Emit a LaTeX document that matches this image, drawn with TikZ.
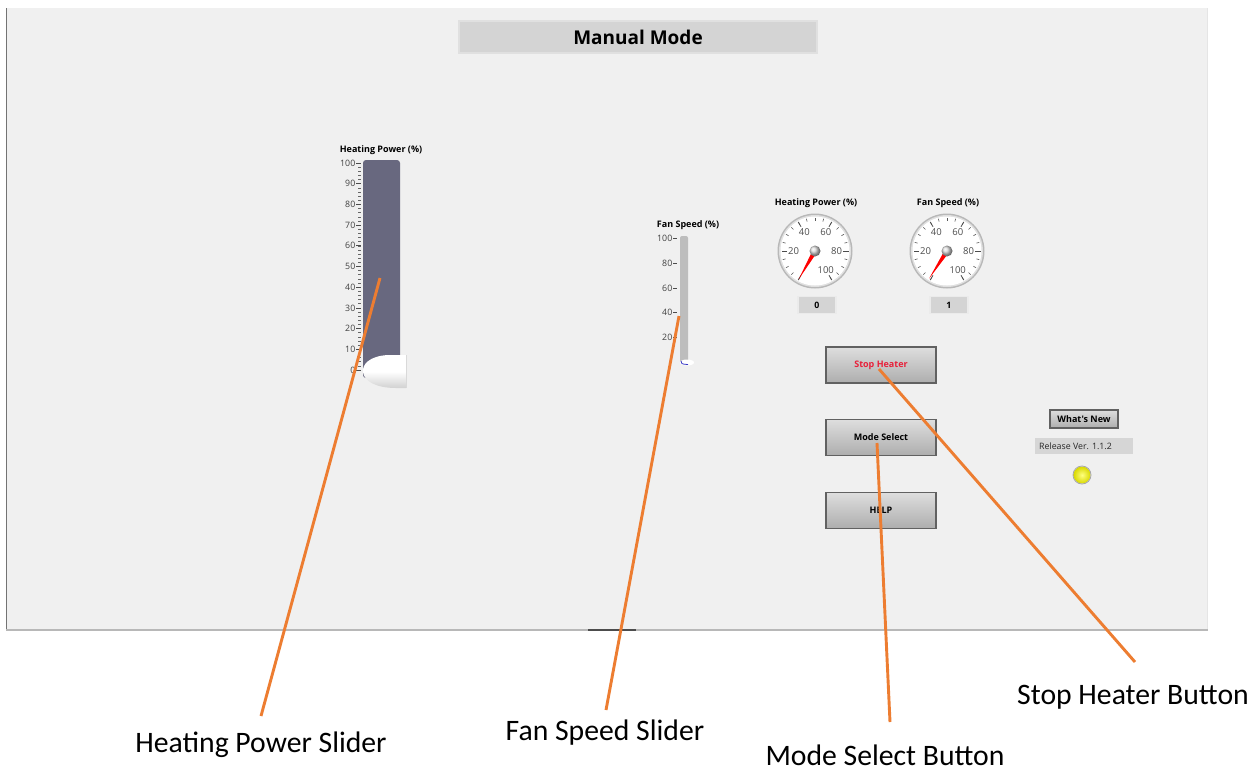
\documentclass[tikz,border=0pt]{standalone}
\usepackage{fontspec}
\setmainfont{Carlito}
\newfontfamily\uifont{Open Sans}
\definecolor{panelgray}{HTML}{F0F0F0}
\definecolor{barslate}{HTML}{68687F}
\definecolor{callorange}{HTML}{ED7D31}
\definecolor{boxgray}{HTML}{D4D4D4}
\definecolor{stopred}{HTML}{E8203A}
\tikzset{
  uilabel/.style={font=\uifont\bfseries\fontsize{9}{10}\selectfont, inner sep=0pt},
  scalenum/.style={font=\uifont\fontsize{8.8}{10}\selectfont, text=black!75, inner sep=0pt},
  dialnum/.style={font=\uifont\fontsize{9.5}{10}\selectfont, text=black!70, inner sep=0pt},
  titlebox/.style={fill=boxgray, draw=black!12, line width=2pt, minimum width=358pt, minimum height=32pt,
    font=\uifont\bfseries\fontsize{19}{22}\selectfont, inner sep=0pt},
  numbox/.style={fill=boxgray, draw=black!8, line width=1.5pt, minimum width=38pt, minimum height=17pt,
    font=\uifont\bfseries\fontsize{8.8}{10}\selectfont, inner sep=0pt},
  uibutton/.style={top color=black!13, bottom color=black!32, draw=black!62, line width=1.3pt,
    minimum width=110pt, minimum height=36pt, inner sep=0pt,
    font=\uifont\bfseries\fontsize{9}{10}\selectfont},
  smallbutton/.style={uibutton, minimum width=68pt, minimum height=18pt},
  infobox/.style={fill=black!16, draw=black!6, line width=1.5pt, minimum width=100pt, minimum height=18pt,
    font=\uifont\fontsize{8.5}{10}\selectfont, text=black!85, inner sep=0pt},
  callout/.style={font=\fontsize{29.7}{34}\selectfont, inner sep=0pt},
  leader/.style={callorange, line width=2.9pt},
}
% round dial with ticks, labels, needle and hub
\newcommand{\dialgauge}[3]{%
  \begin{scope}[shift={(#1,#2)}]
    \fill[black!28] (0,0) circle (37.5);
    \fill[black!12] (0,0) circle (36);
    \fill[white] (0,0) circle (34.5);
    \foreach \v in {0,5,...,100}
      \draw[black!65, line width=0.6pt] ({3*\v-240}:30.5) -- ({3*\v-240}:33.5);
    \foreach \v in {0,20,...,100}
      \draw[black!70, line width=0.8pt] ({3*\v-240}:28) -- ({3*\v-240}:33.5);
    \foreach \v in {20,40,60,80,100}
      \node[dialnum] at ({3*\v-240}:21.5) {\v};
    \fill[red] ({3*#3-240}:33) -- ({3*#3-240+90}:2.4) -- ({3*#3-240-90}:2.4) -- cycle;
    \shade[ball color=black!15] (0,0) circle (5.5);
  \end{scope}}
\begin{document}
\begin{tikzpicture}[x=1pt,y=-1pt]
\useasboundingbox (0,0) rectangle (1259,772);
\fill[white] (0,0) rectangle (1259,772);

% front panel
\fill[panelgray] (6,8) rectangle (1208,630);
\draw[black!55, line width=1pt] (6.5,8) -- (6.5,630);
\draw[black!10, line width=1pt] (1207.5,8) -- (1207.5,630);
\draw[black!28, line width=2pt] (6,630) -- (1208,630);
\draw[black!70, line width=2pt] (588,630) -- (636,630);

% title
\node[titlebox] (title) at (638,37) {Manual Mode};

% heating power slider
\node[uilabel] (hplabel) at (381,150) {Heating Power (\%)};
\fill[barslate, rounded corners=3pt] (363,378) -- (363,160) -- (400,160) -- (400,378) -- cycle;
\foreach \v in {0,2,...,100}
  \draw[black!60, line width=0.6pt] (358,{370-2.07*\v}) -- (360.5,{370-2.07*\v});
\foreach \v in {0,10,...,100}{
  \draw[black!70, line width=0.7pt] (356,{370-2.07*\v}) -- (360.5,{370-2.07*\v});
  \node[scalenum, anchor=east] at (355.5,{370-2.07*\v}) {\v};
}
\shade[top color=white, bottom color=black!18, middle color=white]
  (406,355) -- (388,355) .. controls (370,356) and (362,364) .. (363,372)
  .. controls (364,381) and (376,388) .. (396,388) -- (406,388) -- cycle;
\draw[black!15, line width=0.5pt] (406,355) -- (406,388);

% fan speed slider
\node[uilabel] (fslabel) at (688,225) {Fan Speed (\%)};
\fill[black!26, rounded corners=2pt] (680,236) rectangle (688,363);
\foreach \v in {20,40,...,100}{
  \draw[black!70, line width=0.7pt] (673,{362-1.235*\v}) -- (677,{362-1.235*\v});
  \node[scalenum, anchor=east] at (672.5,{362-1.235*\v}) {\v};
}
\fill[white] (687,362.5) ellipse (7 and 3);
\draw[blue!55!gray, line width=0.8pt] (681,361) .. controls (680,363) and (682,364.5) .. (688,364.5);

% dial indicators
\node[uilabel] (hpdiallabel) at (816,203) {Heating Power (\%)};
\dialgauge{815}{251}{0}
\node[numbox] (hpvalue) at (817,305) {0};
\node[uilabel] (fsdiallabel) at (948,203) {Fan Speed (\%)};
\dialgauge{947}{251}{1}
\node[numbox] (fsvalue) at (949,305) {1};

% buttons
\node[uibutton, text=stopred] (stopbtn) at (881,365) {Stop Heater};
\node[uibutton] (modebtn) at (881,437.5) {Mode Select};
\node[uibutton] (helpbtn) at (881,510.5) {HELP};

% version info
\node[smallbutton] (newbtn) at (1084,419) {What's New};
\node[infobox] (release) at (1084,446) {};
\node[scalenum, anchor=west, text=black!85] (reltext) at (1039,446) {Release Ver. 1.1.2};
\shade[inner color=yellow!50!white, outer color=yellow!85!black] (1082,475) circle (8.5);
\draw[black!35, line width=0.8pt] (1082,475) circle (9);

% callouts
\coordinate (hptip) at (380,278);
\coordinate (hpend) at (261,716);
\coordinate (fstip) at (679,316);
\coordinate (fsend) at (606,710);
\coordinate (mstip) at (877,443);
\coordinate (msend) at (890,722);
\coordinate (shtip) at (879,369);
\coordinate (shend) at (1135,662);
\draw[leader] (hptip) -- (hpend);
\draw[leader] (fstip) -- (fsend);
\draw[leader] (mstip) -- (msend);
\draw[leader] (shtip) -- (shend);
\node[callout] (hpcap) at (261,745) {Heating Power Slider};
\node[callout] (fscap) at (605,733) {Fan Speed Slider};
\node[callout] (mscap) at (885,755) {Mode Select Button};
\node[callout] (shcap) at (1133,697) {Stop Heater Button};
\end{tikzpicture}
\end{document}
